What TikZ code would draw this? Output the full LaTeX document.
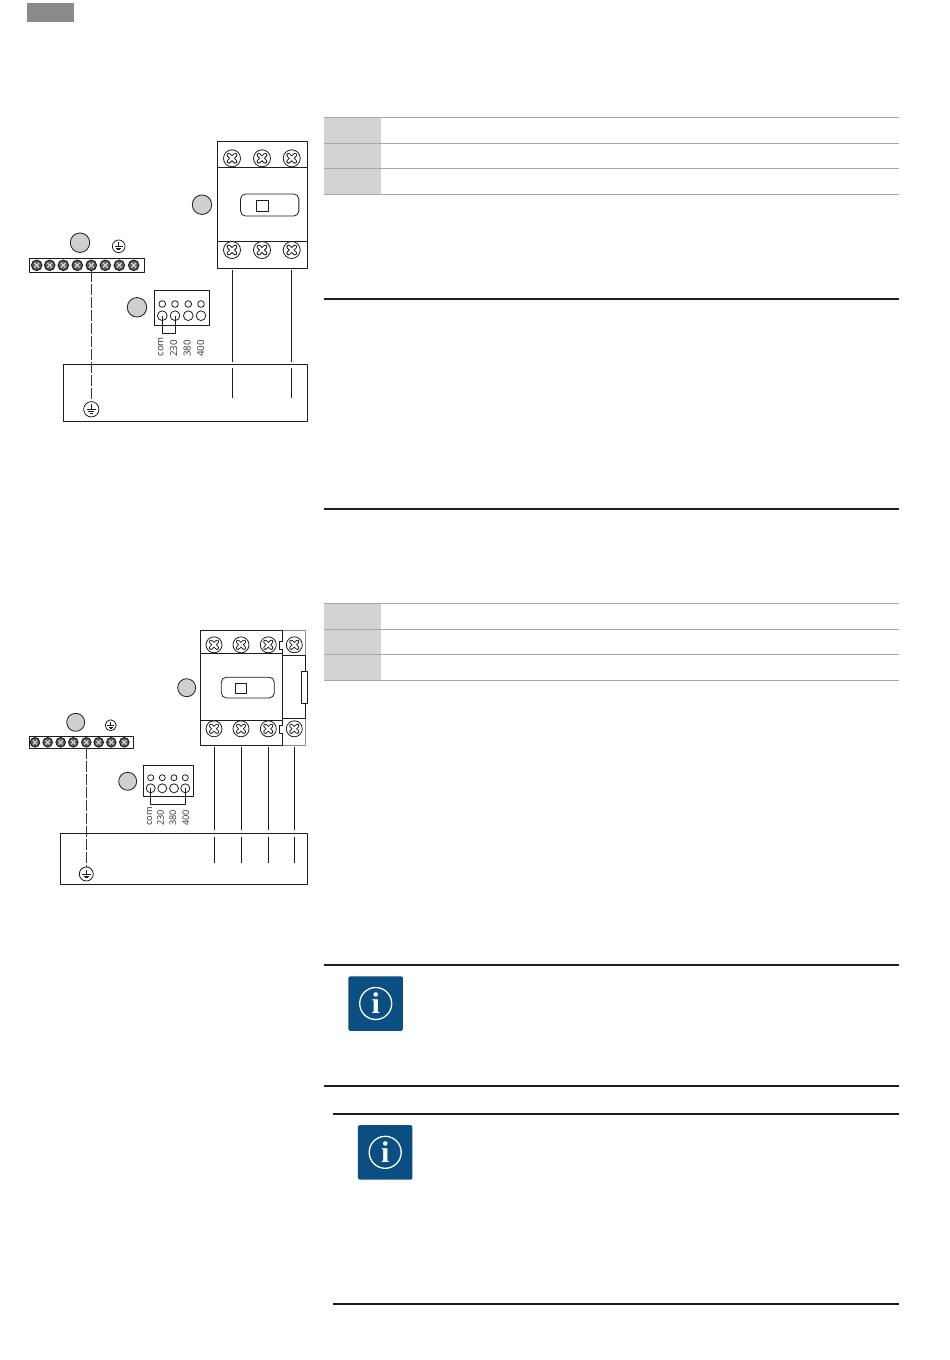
\documentclass[tikz,border=0pt]{standalone}
\usepackage{fontspec}
\setmainfont{Open Sans}
\definecolor{infoblue}{HTML}{0B4F82}
\definecolor{callgray}{HTML}{CFCFCF}
\definecolor{tabgray}{HTML}{D2D2D2}
\definecolor{rulegray}{HTML}{A8A8A8}
\definecolor{tabbar}{HTML}{8A8A8A}
\definecolor{ink}{HTML}{1D1D1B}
\tikzset{every picture/.append style={line join=round}}

\begin{document}
\begin{tikzpicture}[x=1pt,y=-1pt,ink,line width=0.8pt,
				box/.style={rectangle,draw,inner sep=0pt,outer sep=0pt},
				callout/.style={circle,draw,fill=callgray,inner sep=0pt,minimum size=#1},
				screw/.style={circle,draw,fill=white,inner sep=0pt,minimum size=#1,
									path picture={
										\draw[line width=0.25*#1,line cap=round,ink]
											([shift={(-0.19*#1,-0.19*#1)}]path picture bounding box.center) -- ([shift={(0.19*#1,0.19*#1)}]path picture bounding box.center)
											([shift={(-0.19*#1,0.19*#1)}]path picture bounding box.center) -- ([shift={(0.19*#1,-0.19*#1)}]path picture bounding box.center);
										\draw[line width=0.14*#1,line cap=round,white]
											([shift={(-0.19*#1,-0.19*#1)}]path picture bounding box.center) -- ([shift={(0.19*#1,0.19*#1)}]path picture bounding box.center)
											([shift={(-0.19*#1,0.19*#1)}]path picture bounding box.center) -- ([shift={(0.19*#1,-0.19*#1)}]path picture bounding box.center);
									}},
				small screw/.style={circle,draw,fill=ink!70,line width=1pt,inner sep=0pt,minimum size=#1,
									path picture={
										\draw[line width=0.12*#1,white!80!ink]
											([shift={(-0.22*#1,-0.22*#1)}]path picture bounding box.center) -- ([shift={(0.22*#1,0.22*#1)}]path picture bounding box.center)
											([shift={(-0.22*#1,0.22*#1)}]path picture bounding box.center) -- ([shift={(0.22*#1,-0.22*#1)}]path picture bounding box.center);
									}},
				hole/.style={circle,draw,fill=white,inner sep=0pt,minimum size=#1},
				earth/.style={circle,draw,fill=white,inner sep=0pt,minimum size=#1,
									path picture={
										\coordinate (c) at (path picture bounding box.center);
										\draw[line width=0.6pt]
											([yshift=0.32*#1]c) -- ([yshift=-0.02*#1]c)
											([shift={(-0.3*#1,-0.02*#1)}]c) -- ([shift={(0.3*#1,-0.02*#1)}]c)
											([shift={(-0.2*#1,-0.14*#1)}]c) -- ([shift={(0.2*#1,-0.14*#1)}]c)
											([shift={(-0.1*#1,-0.26*#1)}]c) -- ([shift={(0.1*#1,-0.26*#1)}]c);
									}},
				wire/.style={line width=0.9pt},
				pe/.style={line width=1pt,rulegray!20!ink,dash pattern=on 11pt off 2pt},
				volt/.style={rotate=90,anchor=base west,inner sep=0pt,font=\fontsize{9.7}{11}\selectfont,text=ink!90},
				thin rule/.style={rulegray,line width=0.7pt},
				thick rule/.style={ink,line width=1.5pt},
				tab cell/.style={rectangle,fill=tabgray,inner sep=0pt,minimum width=57pt},
				infobox/.style={rectangle,rounded corners=1.5pt,fill=infoblue,inner sep=0pt,minimum size=54.5pt},
				inforing/.style={circle,draw=white,line width=1.3pt,inner sep=0pt,minimum size=32pt},
				infotext/.style={text=white,inner sep=0pt,font=\fontspec{Liberation Serif}\bfseries\fontsize{30}{30}\selectfont}]
\path[ use as bounding box ] (0,0) rectangle (950,1360);

	% page tab and the two tables
	\node[rectangle,fill=tabbar,inner sep=0pt,minimum width=47pt,minimum height=19pt] (tab) at (50.5,12.5) {};
	\node[tab cell,minimum height=76pt] (cells1) at (352.5,155.8) {};
	\node[tab cell,minimum height=76pt] (cells2) at (352.5,641.8) {};
	\draw[thin rule] (324,117.8) -- (899,117.8) (324,143.3) -- (899,143.3) (324,168.3) -- (899,168.3) (324,194.2) -- (899,194.2);
	\draw[thin rule] (324,603.8) -- (899,603.8) (324,629.3) -- (899,629.3) (324,654.8) -- (899,654.8) (324,680.3) -- (899,680.3);
	\draw[thick rule] (324,299) -- (899,299) (324,509) -- (899,509);
	\draw[thick rule] (324,965) -- (899,965) (324,1086) -- (899,1086);
	\draw[thick rule] (333,1114) -- (899,1114) (333,1304) -- (899,1304);

	% info signs
	\node[infobox] (info1) at (375.7,1003.5) {};
	\node[inforing] (ring1) at (info1) {};
	\node[infotext] (i1) at (info1) {i};
	\node[infobox] (info2) at (385.2,1152.3) {};
	\node[inforing] (ring2) at (info2) {};
	\node[infotext] (i2) at (info2) {i};

	% upper diagram
	\node[box,minimum width=90pt,minimum height=126.6pt] (con1) at (262.3,205) {};
	\draw (217.3,167.3) -- (307.3,167.3) (217.3,241.3) -- (307.3,241.3);
	\node[box,rounded corners=5pt,minimum width=58.3pt,minimum height=22pt] (win1) at (269.7,205) {};
	\node[box,minimum width=12.4pt,minimum height=11pt] (sq1) at (262.5,206.2) {};
	\node[screw=17pt] (a1) at (232,158.3) {};
	\node[screw=17pt] (a2) at (262,158.3) {};
	\node[screw=17pt] (a3) at (291.7,158.3) {};
	\node[screw=17pt] (b1) at (232,250) {};
	\node[screw=17pt] (b2) at (262,250) {};
	\node[screw=17pt] (b3) at (291.7,250) {};
	\node[callout=19.5pt] (m1) at (202,204.7) {};
	\node[callout=19.5pt] (n1) at (80,242.7) {};
	\node[callout=19.5pt] (p1) at (137,307.3) {};
	\node[earth=12.7pt] (pe1) at (118.7,246.3) {};

	\node[box,minimum width=115pt,minimum height=14pt] (bar1) at (86.8,265.3) {};
	\node[small screw=10.5pt] (c1) at (36.7,265.3) {};
	\node[small screw=10.5pt] (c2) at (49.7,265.3) {};
	\node[small screw=10.5pt] (c3) at (63.3,265.3) {};
	\node[small screw=10.5pt] (c4) at (77.3,265.3) {};
	\node[small screw=10.5pt] (c5) at (91.3,265.3) {};
	\node[small screw=10.5pt] (c6) at (105.3,265.3) {};
	\node[small screw=10.5pt] (c7) at (119.3,265.3) {};
	\node[small screw=10.5pt] (c8) at (133.7,265.3) {};

	\node[box,minimum width=55pt,minimum height=35pt] (term1) at (181.8,307.8) {};
	\node[hole=6.7pt] (d1) at (162.3,304) {};
	\node[hole=6.7pt] (d2) at (175,304) {};
	\node[hole=6.7pt] (d3) at (188.3,304) {};
	\node[hole=6.7pt] (d4) at (201,304) {};
	\node[hole=9.7pt] (e1) at (162.3,315.7) {};
	\node[hole=9.7pt] (e2) at (175,315.7) {};
	\node[hole=9.7pt] (e3) at (188.3,315.7) {};
	\node[hole=9.7pt] (e4) at (201,315.7) {};
	\coordinate (f1) at (162.3,333.3);
	\coordinate (f2) at (175,333.3);
	\draw (e1.center) -- (f1) -- (f2) -- (e2.center);
	\node[volt] (v1) at (163.3,357) {com};
	\node[volt] (v2) at (177.2,357) {230};
	\node[volt] (v3) at (190.5,357) {380};
	\node[volt] (v4) at (204,357) {400};

	\node[box,minimum width=244pt,minimum height=57.7pt] (motor1) at (185.3,392.9) {};
	\node[earth=15.3pt] (gnd1) at (91.3,409.3) {};
	\draw[pe] (c5.south) -- (gnd1);
	\coordinate (g1) at (232.3,270);
	\coordinate (g2) at (232.3,361.7);
	\coordinate (g3) at (232.3,368.3);
	\coordinate (g4) at (232.3,398.3);
	\coordinate (h1) at (291.3,270);
	\coordinate (h2) at (291.3,361.7);
	\coordinate (h3) at (291.3,368.3);
	\coordinate (h4) at (291.3,398.3);
	\path[wire,draw] (g1) -- (g2) (g3) -- (g4) (h1) -- (h2) (h3) -- (h4);

	% lower diagram
	\draw[rulegray!80!ink,line width=1pt] (282.7,630) -- (305.7,630) -- (305.7,655) (305.7,718.3) -- (305.7,745.7) -- (282.7,745.7);
	\node[box,minimum width=82.4pt,minimum height=115.7pt] (con2) at (241.5,687.85) {};
	\draw (200.3,653.3) -- (282.7,653.3) (200.3,720) -- (282.7,720);
	\draw (282.7,655) -- (305.7,655) -- (305.7,718.3) -- (282.7,718.3);
	\draw[fill=white] (282.7,641) -- (279,641) -- (279,649) -- (282.7,649);
	\draw[fill=white] (282.7,725) -- (279,725) -- (279,733) -- (282.7,733);
	\node[box,fill=white,minimum width=5.6pt,minimum height=31.6pt] (aux2) at (304.5,687.5) {};
	\node[box,rounded corners=5pt,minimum width=53pt,minimum height=20.7pt] (win2) at (247.8,687.6) {};
	\node[box,minimum width=11pt,minimum height=10pt] (sq2) at (241.2,688.3) {};
	\node[screw=16pt] (a5) at (214,644.8) {};
	\node[screw=16pt] (a6) at (241,644.8) {};
	\node[screw=16pt] (a7) at (268.3,644.8) {};
	\node[screw=16pt] (a8) at (294.3,644.8) {};
	\node[screw=16pt] (b5) at (214,728.8) {};
	\node[screw=16pt] (b6) at (241,728.8) {};
	\node[screw=16pt] (b7) at (268.3,728.8) {};
	\node[screw=16pt] (b8) at (294.3,728.8) {};
	\node[callout=18pt] (m2) at (186.7,687.7) {};
	\node[callout=18pt] (n2) at (75.7,722.3) {};
	\node[callout=18pt] (p2) at (127.7,781.3) {};
	\node[earth=11pt] (pe2) at (110.7,725.3) {};

	\node[box,minimum width=104.4pt,minimum height=12pt] (bar2) at (81.5,742.3) {};
	\node[small screw=9.5pt] (k1) at (35,742.3) {};
	\node[small screw=9.5pt] (k2) at (47.7,742.3) {};
	\node[small screw=9.5pt] (k3) at (60.7,742.3) {};
	\node[small screw=9.5pt] (k4) at (73.3,742.3) {};
	\node[small screw=9.5pt] (k5) at (86.3,742.3) {};
	\node[small screw=9.5pt] (k6) at (98.7,742.3) {};
	\node[small screw=9.5pt] (k7) at (111.3,742.3) {};
	\node[small screw=9.5pt] (k8) at (124.3,742.3) {};

	\node[box,minimum width=50.4pt,minimum height=31.4pt] (term2) at (168.5,781) {};
	\node[hole=6pt] (l1) at (150.7,777.7) {};
	\node[hole=6pt] (l2) at (162.3,777.7) {};
	\node[hole=6pt] (l3) at (174,777.7) {};
	\node[hole=6pt] (l4) at (185.3,777.7) {};
	\node[hole=9pt] (o1) at (150.7,788.3) {};
	\node[hole=9pt] (o2) at (162.3,788.3) {};
	\node[hole=9pt] (o3) at (174,788.3) {};
	\node[hole=9pt] (o4) at (185.3,788.3) {};
	\coordinate (r1) at (150.7,804);
	\coordinate (r2) at (185.3,804);
	\draw (o1.center) -- (r1) -- (r2) -- (o4.center);
	\node[volt,font=\fontsize{9.2}{10}\selectfont] (v5) at (152,826) {com};
	\node[volt,font=\fontsize{9.2}{10}\selectfont] (v6) at (163.8,826) {230};
	\node[volt,font=\fontsize{9.2}{10}\selectfont] (v7) at (176.2,826) {380};
	\node[volt,font=\fontsize{9.2}{10}\selectfont] (v8) at (189.2,826) {400};

	\node[box,minimum width=247pt,minimum height=51pt] (motor2) at (183.8,858.8) {};
	\node[earth=14pt] (gnd2) at (86.3,874) {};
	\draw[pe] (k5.south) -- (gnd2);
	\coordinate (s1) at (214.3,746.7);
	\coordinate (s2) at (214.3,830);
	\coordinate (s3) at (214.3,836.7);
	\coordinate (s4) at (214.3,863.3);
	\coordinate (t1) at (241.3,746.7);
	\coordinate (t2) at (241.3,830);
	\coordinate (t3) at (241.3,836.7);
	\coordinate (t4) at (241.3,863.3);
	\coordinate (u1) at (268.3,746.7);
	\coordinate (u2) at (268.3,830);
	\coordinate (u3) at (268.3,836.7);
	\coordinate (u4) at (268.3,863.3);
	\coordinate (w1) at (294.3,746.7);
	\coordinate (w2) at (294.3,830);
	\coordinate (w3) at (294.3,836.7);
	\coordinate (w4) at (294.3,863.3);
	\path[wire,draw] (s1) -- (s2) (s3) -- (s4) (t1) -- (t2) (t3) -- (t4)
		(u1) -- (u2) (u3) -- (u4) (w1) -- (w2) (w3) -- (w4);
\end{tikzpicture}
\end{document}
